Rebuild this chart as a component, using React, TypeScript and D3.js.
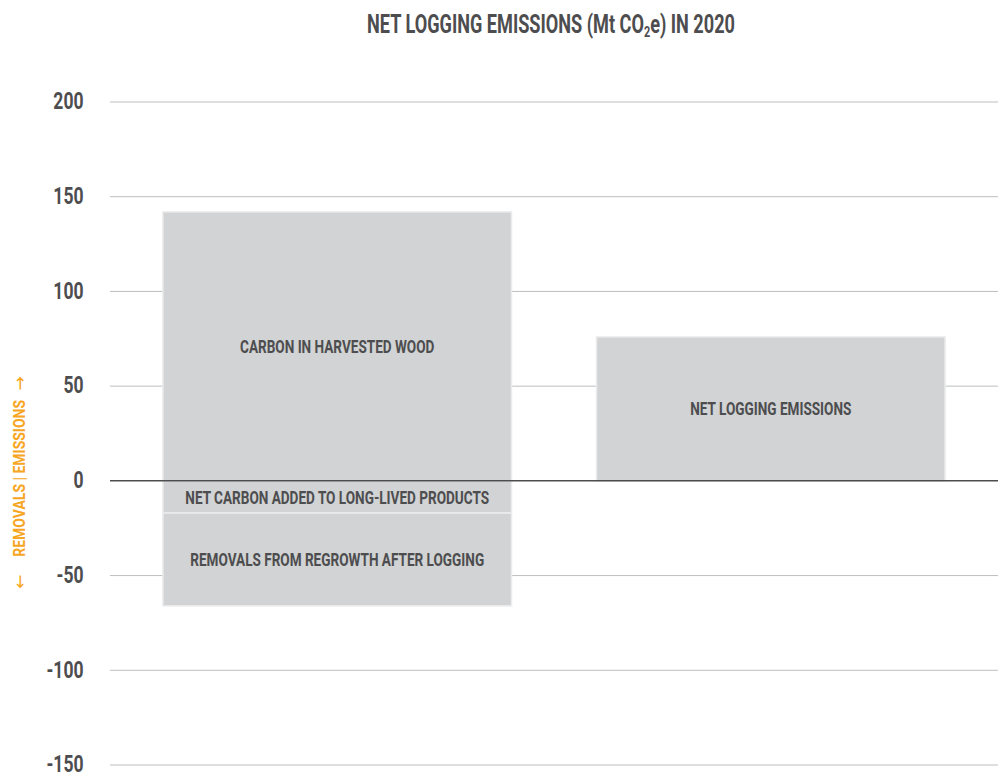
import React from "react";
import * as d3 from "d3";

const categories = ["Logging flows", "Net"];
const flowLabels = [
  "CARBON IN HARVESTED WOOD",
  "NET CARBON ADDED TO LONG-LIVED PRODUCTS",
  "REMOVALS FROM REGROWTH AFTER LOGGING",
];
const flowValues = [142, -17, -49];
const netLabel = "NET LOGGING EMISSIONS";
const netValue = 76;
const yTicks = [200, 150, 100, 50, 0, -50, -100, -150];
const titleParts = ["NET LOGGING EMISSIONS (Mt CO", "2", "e) IN 2020"];
const axisParts = ["\u2190", "REMOVALS | EMISSIONS", "\u2192"];

const W = 999;
const H = 773;
const FONT = "Roboto, 'Open Sans', sans-serif";
const TEXT = "#4d4d4f";
const BAR = "#d1d3d4";
const ORANGE = "#f6a623";
const ARROW_FONT = "'Noto Sans CJK SC', 'DejaVu Sans', sans-serif";

export default function App() {
  const x = d3
    .scaleBand<string>()
    .domain(categories)
    .range([110, 998])
    .paddingInner(0.196)
    .paddingOuter(0.122);
  const y = d3.scaleLinear().domain([-150, 200]).range([765, 102]);

  let pos = 0;
  let neg = 0;
  const segs = flowValues.map((v, i) => {
    let y0: number, y1: number;
    if (v >= 0) {
      y0 = pos;
      y1 = pos + v;
      pos = y1;
    } else {
      y0 = neg;
      y1 = neg + v;
      neg = y1;
    }
    return { label: flowLabels[i], cat: categories[0], lo: Math.min(y0, y1), hi: Math.max(y0, y1) };
  });
  segs.push({ label: netLabel, cat: categories[1], lo: Math.min(0, netValue), hi: Math.max(0, netValue) });

  const bw = x.bandwidth();
  const k = 0.73;

  return (
    <svg width={W} height={H} style={{ position: "absolute", left: 0, top: 0 }} fontFamily={FONT}>
      <rect width={W} height={H} fill="#fff" />
      {/* title */}
      <g transform={`translate(551,32.5) scale(0.725,1)`}>
        <text textAnchor="middle" fontSize={25} fontWeight={700} fill={TEXT}>
          <tspan>{titleParts[0]}</tspan>
          <tspan fontSize={15} dy={4.5}>{titleParts[1]}</tspan>
          <tspan dy={-4.5}>{titleParts[2]}</tspan>
        </text>
      </g>
      {/* gridlines */}
      {yTicks
        .filter((t) => t !== 0)
        .map((t) => (
          <line key={t} x1={110} x2={998} y1={y(t)} y2={y(t)} stroke="#bcbec0" strokeWidth={1} />
        ))}
      {/* tick labels */}
      {yTicks.map((t) => (
        <g key={"l" + t} transform={`translate(83.5,${Math.min(y(t) + 7.3, 771.5)}) scale(${k},1)`}>
          <text textAnchor="end" fontSize={24} fontWeight={700} fill={TEXT}>
            {t}
          </text>
        </g>
      ))}
      {/* bars */}
      {segs.map((s, i) => (
        <rect
          key={i}
          x={x(s.cat)!}
          width={bw}
          y={y(s.hi)}
          height={y(s.lo) - y(s.hi)}
          fill={BAR}
          stroke="#ececec"
          strokeWidth={1.5}
        />
      ))}
      {/* zero line */}
      <line x1={110} x2={998} y1={y(0)} y2={y(0)} stroke={TEXT} strokeWidth={1.5} />
      {/* bar labels */}
      {segs.map((s, i) => (
        <g
          key={"t" + i}
          transform={`translate(${x(s.cat)! + bw / 2},${(y(s.hi) + y(s.lo)) / 2 + 6.6}) scale(${k},1)`}
        >
          <text textAnchor="middle" fontSize={18.6} fontWeight={700} fill={TEXT}>
            {s.label}
          </text>
        </g>
      ))}
      {/* y axis label */}
      <g transform={`translate(25.2,482.5) rotate(-90)`}>
        <text fontWeight={700} fill={ORANGE}>
          <tspan x={-106.5} dy={0} style={{ fontFamily: ARROW_FONT, fontSize: "14px", fontWeight: 700 }}>
            {axisParts[0]}
          </tspan>
          <tspan x={-74.2} dy={0} fontSize={17.3} textLength={156.7} lengthAdjust="spacingAndGlyphs">
            {axisParts[1]}
          </tspan>
          <tspan x={92.5} dy={0} style={{ fontFamily: ARROW_FONT, fontSize: "14px", fontWeight: 700 }}>
            {axisParts[2]}
          </tspan>
        </text>
      </g>
    </svg>
  );
}
